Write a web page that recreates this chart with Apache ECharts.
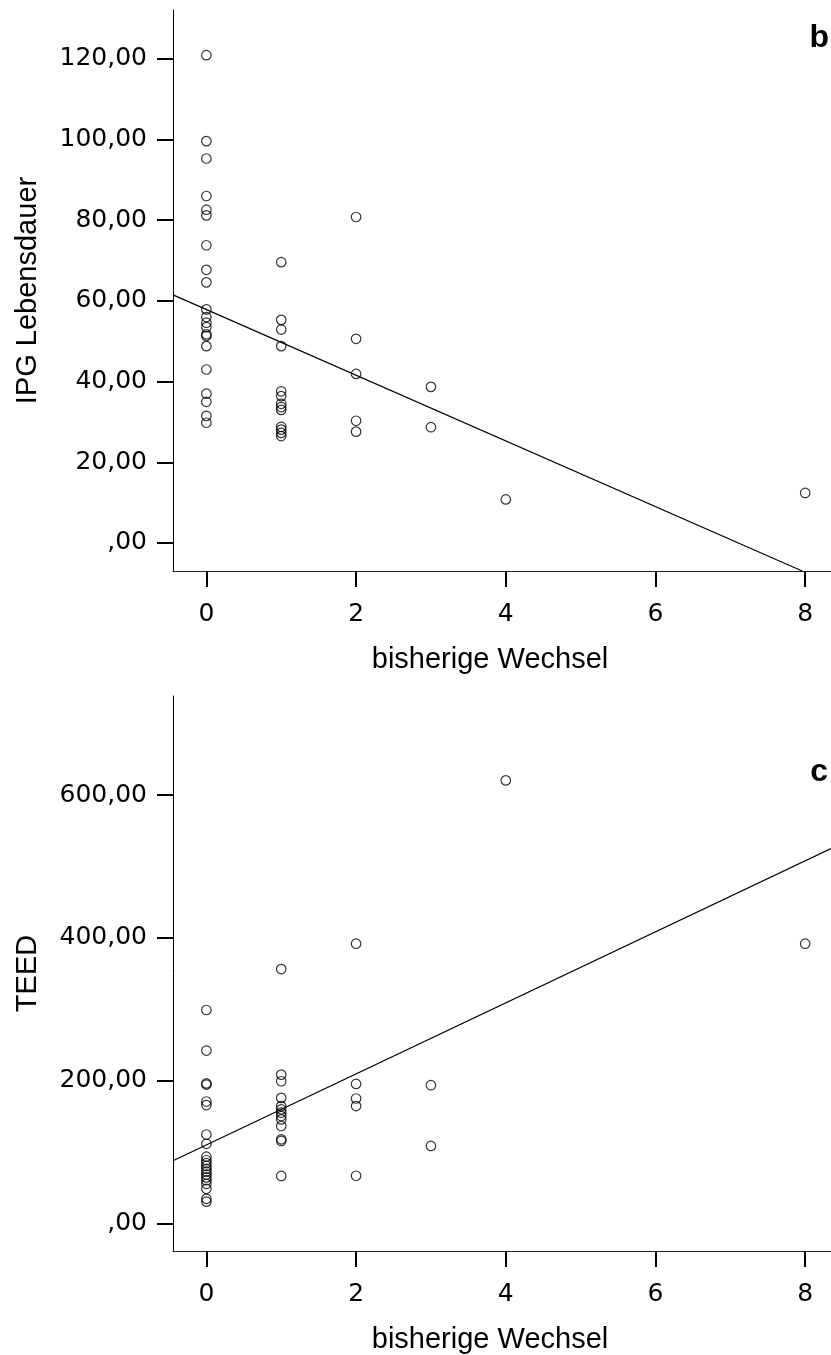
<!DOCTYPE html>
<html>
<head>
<meta charset="utf-8">
<script src="https://cdn.jsdelivr.net/npm/echarts@6/dist/echarts.min.js"></script>
<style>
  html, body { margin: 0; padding: 0; background: #fff; }
  #main { width: 831px; height: 1355px; }
</style>
</head>
<body>
<div id="main"></div>
<script>
// bisherige Wechsel levels (x), values grouped per level
const wechselLevels = [0, 1, 2, 3, 4, 8];

// panel b: IPG Lebensdauer
const ipgByLevel = [
  [120.9, 99.6, 95.3, 86.0, 82.6, 81.2, 73.8, 67.7, 64.6, 57.9, 56.0, 54.6, 53.5, 51.7, 51.3, 48.8, 43.0, 37.0, 35.0, 31.5, 29.8],
  [69.6, 55.3, 52.9, 48.8, 37.6, 36.4, 34.5, 33.7, 33.0, 28.8, 28.1, 27.3, 26.5],
  [80.8, 50.6, 41.9, 30.3, 27.6],
  [38.7, 28.7],
  [10.8],
  [12.4]
];
// fitted line, two end points
const ipgFit = [[-0.446, 61.5], [7.96, -6.94]];

// panel c: TEED
const teedByLevel = [
  [299.2, 242.5, 196.5, 194.9, 171.2, 166.2, 125.0, 112.0, 94.0, 89.0, 85.0, 81.0, 77.0, 73.0, 69.0, 65.0, 61.0, 56.0, 49.0, 35.0, 31.0],
  [356.5, 208.8, 199.5, 176.3, 164.7, 160.1, 155.5, 150.8, 146.2, 136.9, 118.3, 116.0, 67.0],
  [392.0, 195.8, 175.4, 164.8, 67.3],
  [194.0, 109.0],
  [620.5],
  [392.0]
];
const teedFit = [[-0.446, 88.3], [8.345, 525.0]];

const xTicks = [0, 2, 4, 6, 8];
const ipgTicks = [0, 20, 40, 60, 80, 100, 120];
const teedTicks = [0, 200, 400, 600];

function toPoints(groups) {
  const pts = [];
  groups.forEach((vals, i) => vals.forEach(v => pts.push([wechselLevels[i], v])));
  return pts;
}

const fmt = v => (v === 0 ? ',00' : v.toFixed(2).replace('.', ','));

const chart = echarts.init(document.getElementById('main'), null, { renderer: 'canvas' });

const axisText = { color: '#000', fontFamily: 'DejaVu Sans', fontSize: 25 };
const nameText = { color: '#000', fontFamily: 'Liberation Sans', fontSize: 29 };

function xAxis(gridIndex) {
  return {
    type: 'value', gridIndex, min: -0.446, max: 8.345,
    name: 'bisherige Wechsel', nameLocation: 'middle', nameGap: 74,
    nameTextStyle: { ...nameText, padding: [0, 24, 0, 0] },
    axisLine: { show: true, onZero: false, lineStyle: { color: '#222', width: 1 } },
    axisTick: { show: true, customValues: xTicks, length: 16, lineStyle: { color: '#000', width: 2 } },
    axisLabel: { customValues: xTicks, margin: 31, ...axisText },
    splitLine: { show: false }
  };
}

function yAxis(gridIndex, name, min, max, ticks, gap) {
  return {
    type: 'value', gridIndex, min, max,
    name, nameLocation: 'middle', nameRotate: 90, nameGap: gap,
    nameTextStyle: nameText,
    axisLine: { show: true, onZero: false, lineStyle: { color: '#000', width: 1 } },
    axisTick: { show: true, customValues: ticks, length: 16, lineStyle: { color: '#000', width: 2 } },
    axisLabel: { customValues: ticks, margin: 26, formatter: fmt, ...axisText },
    splitLine: { show: false }
  };
}

const circle = { color: 'transparent', borderColor: '#000', borderWidth: 1.2 };

const option = {
  backgroundColor: '#fff',
  animation: false,
  grid: [
    { left: 173, right: 0, top: 10, height: 561 },
    { left: 173, right: 0, top: 696, height: 558 }
  ],
  xAxis: [xAxis(0), xAxis(1)],
  yAxis: [
    yAxis(0, 'IPG Lebensdauer', -6.94, 132.1, ipgTicks, 131),
    yAxis(1, 'TEED', -38, 738.6, teedTicks, 131)
  ],
  graphic: [
    { type: 'text', right: 2, top: 22, style: { text: 'b', fontFamily: 'Liberation Sans', fontWeight: 'bold', fontSize: 32, fill: '#000' } },
    { type: 'text', right: 3, top: 756, style: { text: 'c', fontFamily: 'Liberation Sans', fontWeight: 'bold', fontSize: 32, fill: '#000' } }
  ],
  series: [
    { type: 'scatter', xAxisIndex: 0, yAxisIndex: 0, data: toPoints(ipgByLevel), symbol: 'circle', symbolSize: 9.5, itemStyle: circle },
    { type: 'line', xAxisIndex: 0, yAxisIndex: 0, data: ipgFit, symbol: 'none', lineStyle: { color: '#000', width: 1.2 } },
    { type: 'scatter', xAxisIndex: 1, yAxisIndex: 1, data: toPoints(teedByLevel), symbol: 'circle', symbolSize: 9.5, itemStyle: circle },
    { type: 'line', xAxisIndex: 1, yAxisIndex: 1, data: teedFit, symbol: 'none', lineStyle: { color: '#000', width: 1.2 } }
  ]
};

chart.setOption(option);
</script>
</body>
</html>
